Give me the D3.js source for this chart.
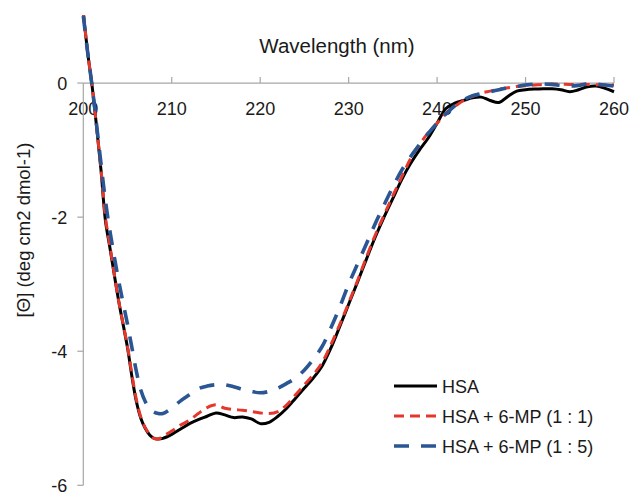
<!DOCTYPE html>
<html>
<head>
<meta charset="utf-8">
<script src="https://cdn.jsdelivr.net/npm/d3@7"></script>
<style>
  html, body { margin: 0; padding: 0; background: #fff; }
  svg { display: block; font-family: "Liberation Sans", Arial, Helvetica, sans-serif; }
</style>
</head>
<body>
<svg id="chart" width="632" height="493"></svg>
<script>
// ---- data ----
const wavelengths = [200,200.5,201,201.5,202,202.5,203,204,205,205.5,206,206.5,207,207.5,208,208.5,
  209,210,211,212,213,214,215,216,217,218,219,220,221,222,223,224,225,226,227,228,229,230,
  231,232,233,234,235,236,237,238,239,240,241,242,243,244,245,246,247,248,249,250,
  251,252,253,254,255,256,257,258,259,260];

const hsa = [1.05,0.45,-0.05,-0.65,-1.3,-2.05,-2.45,-3.25,-3.95,-4.38,-4.75,-5.0,-5.15,-5.25,-5.3,-5.31,
  -5.3,-5.24,-5.16,-5.08,-5.02,-4.97,-4.92,-4.95,-4.99,-4.98,-5.01,-5.08,-5.06,-4.97,-4.85,-4.70,-4.55,-4.40,-4.22,-3.95,-3.63,-3.30,
  -2.97,-2.63,-2.30,-2.0,-1.72,-1.44,-1.2,-1.0,-0.82,-0.6,-0.38,-0.3,-0.26,-0.22,-0.21,-0.26,-0.29,-0.2,-0.12,-0.1,
  -0.09,-0.085,-0.085,-0.1,-0.13,-0.1,-0.055,-0.045,-0.08,-0.13];

const hsaMp11 = [1.05,0.45,-0.05,-0.65,-1.28,-2.0,-2.42,-3.25,-3.93,-4.35,-4.72,-4.98,-5.14,-5.24,-5.3,-5.31,
  -5.27,-5.19,-5.1,-5.03,-4.93,-4.84,-4.80,-4.85,-4.87,-4.88,-4.9,-4.92,-4.93,-4.9,-4.8,-4.65,-4.5,-4.35,-4.17,-3.9,-3.6,-3.28,
  -2.95,-2.6,-2.27,-1.97,-1.68,-1.4,-1.13,-0.92,-0.74,-0.6,-0.45,-0.35,-0.26,-0.2,-0.15,-0.12,-0.09,-0.07,-0.05,-0.04,
  -0.03,-0.02,-0.015,-0.015,-0.02,-0.02,-0.02,-0.025,-0.03,-0.03];

const hsaMp15 = [1.0,0.45,-0.05,-0.62,-1.2,-1.75,-2.2,-2.95,-3.6,-3.95,-4.3,-4.58,-4.75,-4.86,-4.91,-4.93,
  -4.93,-4.85,-4.74,-4.65,-4.56,-4.52,-4.50,-4.50,-4.53,-4.57,-4.6,-4.62,-4.6,-4.55,-4.48,-4.4,-4.28,-4.12,-3.93,-3.65,-3.34,-3.0,
  -2.7,-2.4,-2.1,-1.82,-1.55,-1.3,-1.1,-0.92,-0.75,-0.6,-0.46,-0.34,-0.25,-0.19,-0.16,-0.13,-0.1,-0.07,-0.05,-0.03,
  -0.015,-0.015,-0.02,-0.035,-0.045,-0.035,-0.015,-0.015,-0.03,-0.045];

const seriesNames = ["HSA", "HSA + 6-MP (1 : 1)", "HSA + 6-MP (1 : 5)"];
const xTicks = [200, 210, 220, 230, 240, 250, 260];
const yTicks = [0, -2, -4, -6];

// ---- layout ----
const svg = d3.select("#chart");
const x = d3.scaleLinear().domain([200, 260]).range([83.3, 614]);
const y = d3.scaleLinear().domain([-6, 1]).range([485.3, 16]);

const styles = [
  { color: "#000000", width: 3, dash: null },
  { color: "#e5382c", width: 3, dash: "10,6" },
  { color: "#2b5694", width: 3.6, dash: "15,12" }
];
const series = [hsa, hsaMp11, hsaMp15];

// clip
svg.append("defs").append("clipPath").attr("id", "plotclip")
  .append("rect").attr("x", 60).attr("y", 15).attr("width", 570).attr("height", 478);

const axisColor = "#a6a6a6";

// x axis (at y = 0), ticks upward
const xAxisG = svg.append("g").attr("transform", `translate(0,${y(0)})`);
xAxisG.append("line").attr("x1", x(200)).attr("x2", x(260)).attr("stroke", axisColor).attr("stroke-width", 1.2);
xAxisG.selectAll("line.tick").data(xTicks.filter(d => d !== 200)).enter().append("line")
  .attr("class", "tick").attr("x1", d => x(d)).attr("x2", d => x(d)).attr("y1", 0).attr("y2", -6)
  .attr("stroke", axisColor).attr("stroke-width", 1.2);
xAxisG.selectAll("text").data(xTicks).enter().append("text")
  .attr("x", d => x(d)).attr("y", 32).attr("text-anchor", "middle")
  .attr("font-size", 18).attr("fill", "#1a1a1a").text(d => d);

// y axis (at x = 200), ticks leftward
const yAxisG = svg.append("g").attr("transform", `translate(${x(200)},0)`);
yAxisG.append("line").attr("y1", y(0)).attr("y2", y(-6)).attr("stroke", axisColor).attr("stroke-width", 1.2);
yAxisG.selectAll("line.tick").data(yTicks).enter().append("line")
  .attr("class", "tick").attr("y1", d => y(d)).attr("y2", d => y(d)).attr("x1", 0).attr("x2", -6)
  .attr("stroke", axisColor).attr("stroke-width", 1.2);
yAxisG.selectAll("text").data(yTicks).enter().append("text")
  .attr("x", -16).attr("y", d => y(d)).attr("dy", "0.36em").attr("text-anchor", "end")
  .attr("font-size", 18).attr("fill", "#1a1a1a").text(d => d);

// titles
svg.append("text").attr("x", 337).attr("y", 53).attr("text-anchor", "middle")
  .attr("font-size", 20.5).attr("fill", "#1a1a1a").text("Wavelength (nm)");
svg.append("text").attr("transform", "translate(30,230) rotate(-90)").attr("text-anchor", "middle")
  .attr("font-size", 18.5).attr("fill", "#1a1a1a").text("[Θ] (deg cm2 dmol-1)");

// lines
const line = d3.line().x(d => x(d[0])).y(d => y(d[1])).curve(d3.curveCatmullRom.alpha(0.5));
const plot = svg.append("g").attr("clip-path", "url(#plotclip)");
series.forEach((vals, i) => {
  const pts = wavelengths.map((w, j) => [w, vals[j]]);
  plot.append("path").datum(pts).attr("d", line)
    .attr("fill", "none").attr("stroke", styles[i].color).attr("stroke-width", styles[i].width)
    .attr("stroke-dasharray", styles[i].dash).attr("stroke-linejoin", "round");
});

// legend
const legend = svg.append("g");
seriesNames.forEach((name, i) => {
  const ly = 386 + i * 30;
  legend.append("line").attr("x1", 394).attr("x2", 437).attr("y1", ly).attr("y2", ly)
    .attr("stroke", styles[i].color).attr("stroke-width", styles[i].width)
    .attr("stroke-dasharray", styles[i].dash);
  legend.append("text").attr("x", 442).attr("y", ly + 7).attr("font-size", 18)
    .attr("fill", "#1a1a1a").text(name);
});
</script>
</body>
</html>
